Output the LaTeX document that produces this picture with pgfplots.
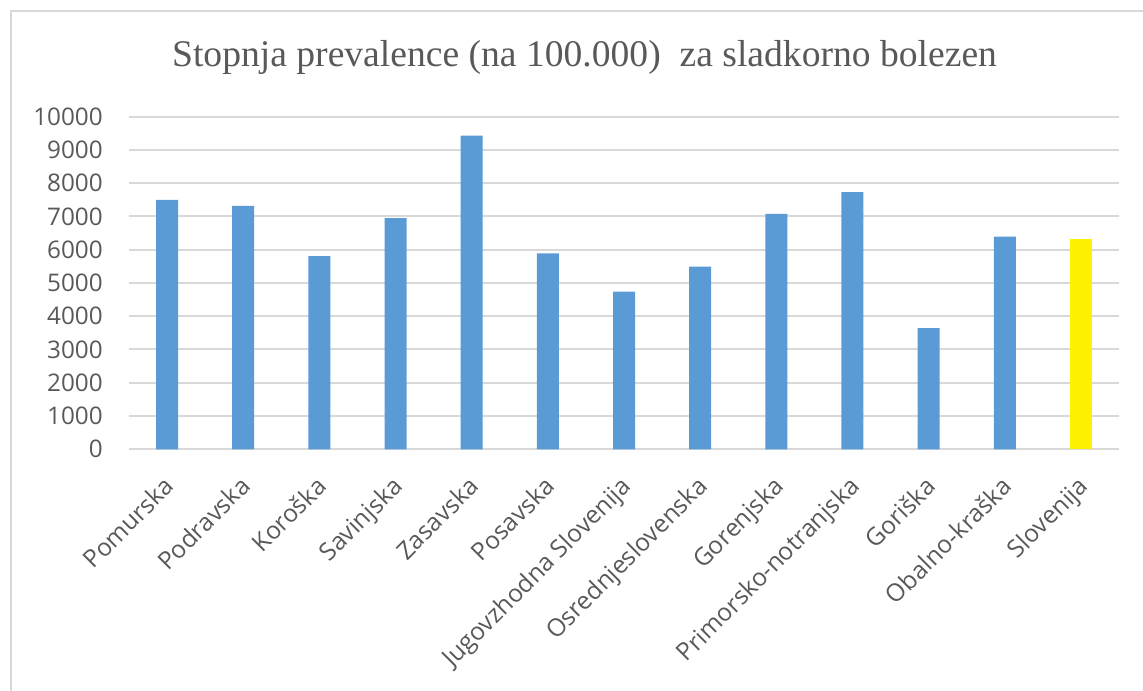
\documentclass[border=0pt]{standalone}
\usepackage{pgfplots}
\pgfplotsset{compat=1.18}
\usepackage{fontspec}
\setmainfont{Open Sans}
\newfontfamily\titlefont{Liberation Serif}
\definecolor{barblue}{HTML}{5B9BD5}
\definecolor{txtgray}{HTML}{595959}
\definecolor{gridgray}{HTML}{D9D9D9}
\begin{document}
\begin{tikzpicture}
\useasboundingbox (0,0) rectangle (857.25pt,518.25pt);
\draw[gridgray, line width=2pt] (8.25pt,0pt) -- (8.25pt,510pt) -- (857.25pt,510pt);
\node[text=txtgray, font=\titlefont\fontsize{28.2}{32}\selectfont] at (438.4pt,475.5pt) {Stopnja prevalence (na 100.000)\ \ za sladkorno bolezen};
\begin{axis}[
  at={(96.75pt,181.3pt)}, anchor=south west,
  scale only axis, width=742.5pt, height=249.45pt,
  ybar, bar shift=0pt, bar width=16.5pt,
  xmin=-0.5, xmax=12.5, ymin=0, ymax=10000,
  ytick={0,1000,...,10000},
  xtick={0,...,12},
  xticklabels={Pomurska,Podravska,Koroška,Savinjska,Zasavska,Posavska,Jugovzhodna Slovenija,Osrednjeslovenska,Gorenjska,Primorsko-notranjska,Goriška,Obalno-kraška,Slovenija},
  axis line style={draw=none},
  major tick length=0pt,
  ymajorgrids, grid style={gridgray, line width=1.5pt},
  scaled y ticks=false,
  /pgf/number format/.cd, assume math mode=true, 1000 sep={},
  /pgfplots/.cd,
  yticklabel style={font=\fontsize{18.2}{21}\selectfont, text=txtgray, inner sep=0pt, xshift=-19.5pt},
  xticklabel style={font=\fontsize{18.4}{21}\selectfont, text=txtgray, inner sep=0pt, xshift=-3.5pt, yshift=-19pt, rotate=45, anchor=north east},
]
\addplot[fill=barblue, draw=none] coordinates {(0,7500) (1,7320) (2,5810) (3,6950) (4,9430) (5,5890) (6,4740) (7,5490) (8,7075) (9,7730) (10,3640) (11,6390)};
\addplot[fill=yellow, draw=none] coordinates {(12,6310)};
\end{axis}
\end{tikzpicture}
\end{document}
